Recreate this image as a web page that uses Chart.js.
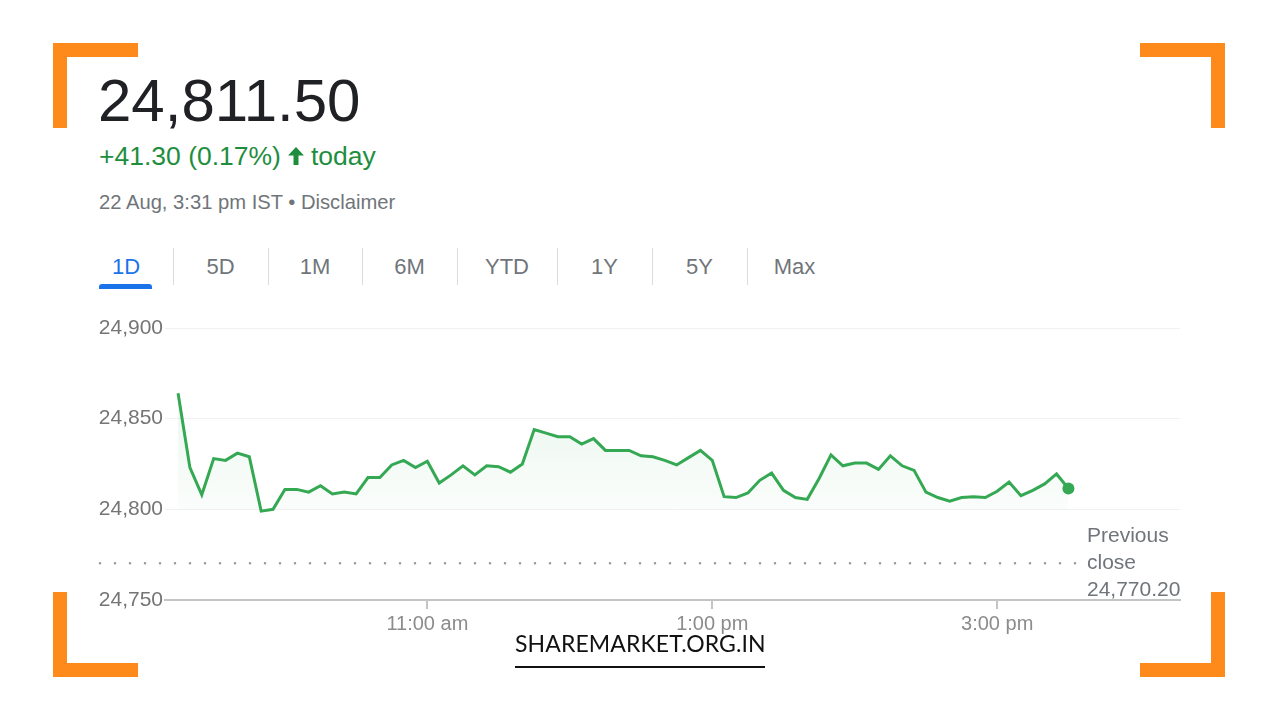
<!DOCTYPE html>
<html>
<head>
<meta charset="utf-8">
<title>NIFTY 50 - 1D</title>
<script src="https://cdn.jsdelivr.net/npm/chart.js@4.4.1/dist/chart.umd.min.js"></script>
<style>
  html, body { margin: 0; padding: 0; background: #fff; }
  body { width: 1280px; height: 720px; position: relative; overflow: hidden; font-family: "Liberation Sans", Arial, sans-serif; }
  .abs { position: absolute; line-height: 1; white-space: nowrap; }
  .corner { position: absolute; background: #ff8a1c; }
  #price { left: 98px; top: 71px; font-size: 60px; color: #202124; }
  #change { left: 99px; top: 143px; font-size: 26.5px; color: #1e8e3e; }
  #change svg { display: inline-block; vertical-align: baseline; margin: 0 7px 0 7px; }
  #stamp { left: 99px; top: 192px; font-size: 20.2px; color: #70757a; }
  .tab { position: absolute; top: 256px; font-size: 22px; line-height: 1; color: #70757a; text-align: center; }
  .tab.on { color: #1a73e8; }
  .sep { position: absolute; top: 248px; width: 1px; height: 37px; background: #dadce0; }
  #tabline { position: absolute; left: 99px; top: 284px; width: 53px; height: 5px; background: #1a73e8; border-radius: 3px 3px 0 0; }
  #wrap { position: absolute; left: 90px; top: 300px; width: 1100px; height: 350px; }
  #brand { left: 515px; top: 632px; font-family: Lato, "Open Sans", sans-serif; font-size: 23px; color: #111; letter-spacing: 0.1px; }
  #brandline { position: absolute; left: 515px; top: 666px; width: 250px; height: 2px; background: #111; }
</style>
</head>
<body>
<div class="corner" style="left:53px;top:43px;width:85px;height:14px"></div>
<div class="corner" style="left:53px;top:43px;width:14px;height:85px"></div>
<div class="corner" style="left:1140px;top:43px;width:85px;height:14px"></div>
<div class="corner" style="left:1211px;top:43px;width:14px;height:85px"></div>
<div class="corner" style="left:53px;top:663px;width:85px;height:14px"></div>
<div class="corner" style="left:53px;top:592px;width:14px;height:85px"></div>
<div class="corner" style="left:1140px;top:663px;width:85px;height:14px"></div>
<div class="corner" style="left:1211px;top:592px;width:14px;height:85px"></div>

<div class="abs" id="price">24,811.50</div>
<div class="abs" id="change">+41.30 (0.17%)<svg width="16" height="18" viewBox="0 0 16 18"><path d="M8 0 L16 8.5 L10.5 8.5 L10.5 18 L5.5 18 L5.5 8.5 L0 8.5 Z" fill="#1e8e3e"/></svg>today</div>
<div class="abs" id="stamp">22 Aug, 3:31 pm IST • Disclaimer</div>

<div id="tabs"></div>
<div id="tabline"></div>

<div id="wrap"><canvas id="chart" width="1100" height="350"></canvas></div>

<div class="abs" id="brand">SHAREMARKET.ORG.IN</div>
<div id="brandline"></div>

<script>
"use strict";

// NIFTY 50 intraday, 5-minute closes from 9:15 am to 3:30 pm
const prices = [
    24864, 24823, 24808, 24828, 24827, 24831, 24829, 24799, 24800, 24811,
    24811, 24809.5, 24813, 24808.5, 24809.5, 24808.5, 24817.5, 24817.5, 24824.5, 24827,
    24823, 24826.5, 24814.5, 24819, 24824, 24819, 24824, 24823.5, 24820.5, 24825,
    24844, 24842, 24840, 24840, 24836, 24839, 24832.5, 24832.5, 24832.5, 24829.5,
    24829, 24827, 24824.5, 24828.5, 24832.5, 24827, 24807, 24806.5, 24809, 24816,
    24820, 24810.5, 24806.5, 24805.5, 24817, 24830, 24824, 24825.5, 24825.5, 24822,
    24829.5, 24824, 24821.5, 24809.5, 24806.5, 24804.5, 24806.5, 24807, 24806.5, 24810,
    24815, 24807.5, 24810.5, 24814, 24819.5, 24811.5
];
const startMinute = 555;   // 9:15 am
const stepMinutes = 5;
const times = prices.map((_, i) => startMinute + i * stepMinutes);

const prevClose = 24770.20;
const yTicks = [24750, 24800, 24850, 24900];
const xTickMinutes = [660, 780, 900];
const xTickLabels = ["11:00 am", "1:00 pm", "3:00 pm"];
const tabs = ["1D", "5D", "1M", "6M", "YTD", "1Y", "5Y", "Max"];
const tabEdges = [79, 173, 268, 362, 457, 557, 652, 747, 842];

// range tabs
const tabBox = document.getElementById("tabs");
tabs.forEach(function(t, i) {
    const d = document.createElement("div");
    d.className = "tab" + (i === 0 ? " on" : "");
    d.style.left = tabEdges[i] + "px";
    d.style.width = (tabEdges[i + 1] - tabEdges[i]) + "px";
    d.textContent = t;
    tabBox.appendChild(d);
    if (i > 0) {
        const s = document.createElement("div");
        s.className = "sep";
        s.style.left = tabEdges[i] + "px";
        tabBox.appendChild(s);
    }
});

const green = "#34a853";

const prevClosePlugin = {
    id: "prevClose",
    beforeDatasetsDraw(chart) {
        const c = chart.ctx;
        const y = chart.scales.y.getPixelForValue(prevClose);
        c.save();
        c.strokeStyle = "#9a9a9a";
        c.lineWidth = 2.5;
        c.lineCap = "round";
        c.setLineDash([0, 15]);
        c.beginPath();
        c.moveTo(10, y);
        c.lineTo(988, y);
        c.stroke();
        c.setLineDash([]);
        c.fillStyle = "#70757a";
        c.font = "21px 'Liberation Sans', Arial, sans-serif";
        c.textAlign = "left";
        c.textBaseline = "alphabetic";
        const lx = chart.chartArea.right - 93;
        c.fillText("Previous", lx, y - 21);
        c.fillText("close", lx, y + 6);
        c.fillText(prevClose.toLocaleString("en-US", { minimumFractionDigits: 2 }), lx, y + 33);
        c.restore();
    }
};

const last = prices.length - 1;

new Chart(document.getElementById("chart"), {
    type: "line",
    data: {
        datasets: [{
            data: prices.map((p, i) => ({ x: times[i], y: p })),
            borderColor: green,
            borderWidth: 3,
            tension: 0,
            fill: { value: 24800 },
            backgroundColor: function(ctx) {
                const area = ctx.chart.chartArea;
                if (!area) return "rgba(52,168,83,0.06)";
                const g = ctx.chart.ctx.createLinearGradient(0, area.top + 60, 0, area.top + 185);
                g.addColorStop(0, "rgba(52,168,83,0.10)");
                g.addColorStop(1, "rgba(52,168,83,0.02)");
                return g;
            },
            pointRadius: ctx => ctx.dataIndex === last ? 6 : 0,
            pointBackgroundColor: green,
            pointBorderWidth: 0,
            pointHoverRadius: 0
        }]
    },
    options: {
        responsive: false,
        animation: false,
        devicePixelRatio: 1,
        layout: { padding: { top: 28, right: 10, left: 0, bottom: 0 } },
        plugins: { legend: { display: false }, tooltip: { enabled: false } },
        scales: {
            x: {
                type: "linear",
                min: 549.5,
                max: 977,
                afterBuildTicks: s => { s.ticks = xTickMinutes.map(v => ({ value: v })); },
                afterFit: s => { s.height = 50; },
                ticks: {
                    autoSkip: false,
                    maxRotation: 0,
                    padding: 3,
                    color: "#8c8c8c",
                    font: { family: "'Liberation Sans', Arial, sans-serif", size: 20 },
                    callback: v => xTickLabels[xTickMinutes.indexOf(v)]
                },
                grid: { drawOnChartArea: false, color: "#c4c4c4", lineWidth: 2, tickLength: 9 },
                border: { color: "#c4c4c4", width: 2 }
            },
            y: {
                min: 24750,
                max: 24900,
                afterBuildTicks: s => { s.ticks = yTicks.map(v => ({ value: v })); },
                afterFit: s => { s.width = 75; },
                ticks: {
                    padding: 2,
                    color: "#757575",
                    font: { family: "'Liberation Sans', Arial, sans-serif", size: 21 },
                    callback: v => v.toLocaleString("en-US")
                },
                grid: {
                    drawTicks: false,
                    color: ctx => ctx.tick && ctx.tick.value === 24750 ? "rgba(0,0,0,0)" : "#f1f1f1",
                    lineWidth: 1
                },
                border: { display: false }
            }
        }
    },
    plugins: [prevClosePlugin]
});
</script>
</body>
</html>
